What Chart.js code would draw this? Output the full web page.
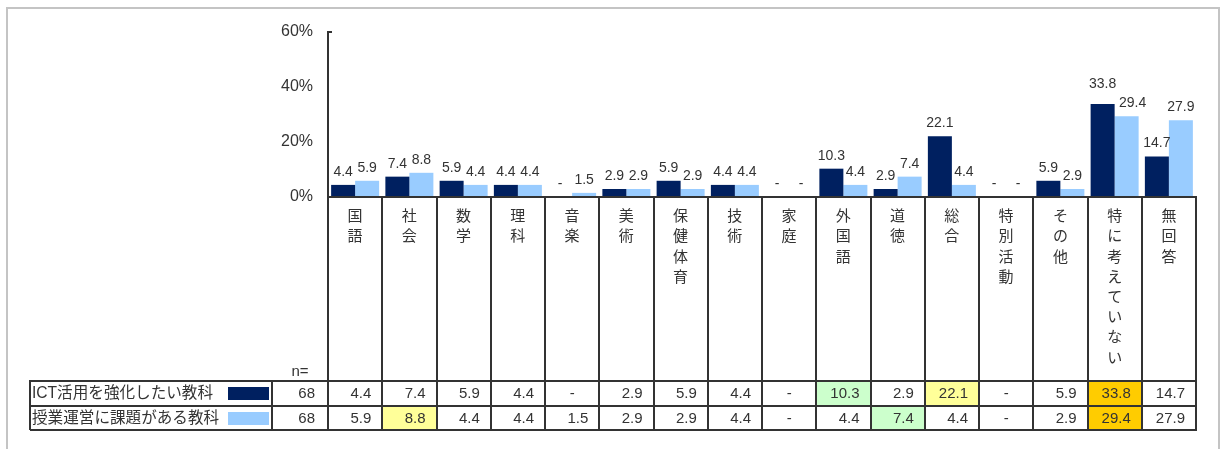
<!DOCTYPE html>
<html>
<head>
<meta charset="utf-8">
<script src="https://cdn.jsdelivr.net/npm/chart.js@4/dist/chart.umd.min.js"></script>
<style>
  html, body { margin: 0; padding: 0; background: #ffffff; }
  #wrap { position: relative; width: 1223px; height: 449px; }
  canvas { display: block; }
</style>
</head>
<body>
<div id="wrap"><canvas id="c" width="1223" height="449"></canvas></div>
<script>
// ---- data ----
const categories = ["国語","社会","数学","理科","音楽","美術","保健体育","技術","家庭","外国語","道徳","総合","特別活動","その他","特に考えていない","無回答"];
const seriesNames = ["ICT活用を強化したい教科","授業運営に課題がある教科"];
const ictValues   = [4.4, 7.4, 5.9, 4.4, null, 2.9, 5.9, 4.4, null, 10.3, 2.9, 22.1, null, 5.9, 33.8, 14.7];
const issueValues = [5.9, 8.8, 4.4, 4.4, 1.5, 2.9, 2.9, 4.4, null, 4.4, 7.4, 4.4, null, 2.9, 29.4, 27.9];
const nValues = [68, 68];
const yTicks = [0, 20, 40, 60];
// ---- cell highlight styles (by row) ----
const Y = "#FFFF99", G = "#CCFFCC", O = "#FFCC00";
const ictHighlight   = [null,null,null,null,null,null,null,null,null,G,null,Y,null,null,O,null];
const issueHighlight = [null,Y,null,null,null,null,null,null,null,null,G,null,null,null,O,null];

const DARK = "#002060", LIGHT = "#99CCFF", LINE = "#333333", TXT = "#333333";
const FONT = '"Liberation Sans", Arial, "Noto Sans CJK JP", sans-serif';
const fmt = v => (v === null || v === undefined) ? "-" : v.toFixed(1);

const tablePlugin = {
  id: "tablePlugin",
  beforeDraw(chart) {
    const ctx = chart.ctx;
    ctx.save();
    ctx.fillStyle = "#c4c4c4";
    ctx.fillRect(6, 7, 2, 442);
    ctx.fillRect(6, 7, 1214, 2);
    ctx.fillRect(1218, 7, 2, 442);
    ctx.restore();
  },
  afterDraw(chart) {
    const ctx = chart.ctx;
    const xs = chart.scales.x, ys = chart.scales.y;
    const L = chart.chartArea.left, R = chart.chartArea.right;
    const B = Math.round(ys.getPixelForValue(0));
    const colW = xs.getPixelForValue(1) - xs.getPixelForValue(0);
    const row1Top = 381, row2Top = 406, tblBottom = 430;
    const tblLeft = 30, nLeft = 272;
    ctx.save();

    // data labels above bars (with simple overlap avoidance)
    ctx.font = "14px " + FONT;
    ctx.fillStyle = TXT;
    ctx.textAlign = "center";
    ctx.textBaseline = "middle";
    const m0 = chart.getDatasetMeta(0), m1 = chart.getDatasetMeta(1);
    categories.forEach((c, i) => {
      const labs = [[ictValues[i], m0.data[i]], [issueValues[i], m1.data[i]]].map(([v, bar]) => {
        const t = fmt(v);
        return { t, x: bar.x, y: (v === null ? ys.getPixelForValue(0) : bar.y) - 13, w: ctx.measureText(t).width };
      });
      const [a, b] = labs;
      const hOver = (a.x + a.w / 2) - (b.x - b.w / 2);
      if (hOver > 0 && Math.abs(a.y - b.y) < 14) {
        if (a.y <= b.y) { a.y = b.y - 19; b.x += 6; }
        else { b.y = a.y - 19; a.x -= 6; }
      }
      labs.forEach(l => ctx.fillText(l.t, l.x, l.y));
    });

    // top tick cap
    ctx.fillStyle = LINE;
    const yTop = Math.round(ys.getPixelForValue(yTicks[yTicks.length - 1]));
    ctx.fillRect(L - 1, yTop - 1, 5, 2);

    // highlights
    [[ictHighlight, row1Top, row2Top], [issueHighlight, row2Top, tblBottom]].forEach(([hl, t, b]) => {
      hl.forEach((c, i) => {
        if (!c) return;
        const cx = xs.getPixelForValue(i);
        ctx.fillStyle = c;
        ctx.fillRect(cx - colW / 2, t, colW, b - t);
      });
    });

    // lines
    ctx.fillStyle = LINE;
    ctx.fillRect(L - 1, B - 1, R - L + 2, 2);               // x axis line
    ctx.fillRect(tblLeft, row1Top - 1, R - tblLeft + 1, 2);
    ctx.fillRect(tblLeft, row2Top - 1, R - tblLeft + 1, 2);
    ctx.fillRect(tblLeft, tblBottom - 1, R - tblLeft + 1, 2);
    ctx.fillRect(tblLeft - 1, row1Top - 1, 2, tblBottom - row1Top + 1);
    ctx.fillRect(nLeft - 1, row1Top - 1, 2, tblBottom - row1Top + 1);
    for (let k = 0; k <= categories.length; k++) {
      const x = Math.round(L + k * colW);
      ctx.fillRect(x - 1, B - 1, 2, tblBottom - B + 1);
    }

    // category labels (vertical)
    ctx.fillStyle = TXT;
    ctx.font = "15px " + FONT;
    ctx.textAlign = "center";
    ctx.textBaseline = "middle";
    categories.forEach((c, i) => {
      const cx = xs.getPixelForValue(i);
      Array.from(c).forEach((ch, j) => {
        ctx.fillText(ch, cx, 217 + j * 20.2);
      });
    });

    // n=
    ctx.font = "15px " + FONT;
    ctx.fillText("n=", 300, 372);

    // row labels and swatches
    const rows = [[ictValues, row1Top, row2Top, DARK], [issueValues, row2Top, tblBottom, LIGHT]];
    rows.forEach(([vals, t, b, col], r) => {
      const cy = (t + b) / 2 + 0.5;
      ctx.fillStyle = TXT;
      ctx.textAlign = "left";
      ctx.font = "15.6px " + FONT;
      ctx.fillText(seriesNames[r], 32, cy);
      ctx.fillStyle = col;
      ctx.fillRect(228, t + 6, 41, 13);
      ctx.fillStyle = TXT;
      ctx.font = "15px " + FONT;
      ctx.textAlign = "right";
      ctx.fillText(String(nValues[r]), 315, cy);
      vals.forEach((v, i) => {
        const cx = xs.getPixelForValue(i);
        if (v === null) {
          ctx.textAlign = "center";
          ctx.fillText("-", cx, cy);
        } else {
          ctx.textAlign = "right";
          ctx.fillText(fmt(v), cx + colW / 2 - 11, cy);
        }
      });
    });
    ctx.restore();
  }
};

new Chart(document.getElementById("c"), {
  type: "bar",
  data: {
    labels: categories,
    datasets: [
      { label: seriesNames[0], data: ictValues, backgroundColor: DARK, barPercentage: 1, categoryPercentage: 0.885 },
      { label: seriesNames[1], data: issueValues, backgroundColor: LIGHT, barPercentage: 1, categoryPercentage: 0.885 }
    ]
  },
  options: {
    responsive: false,
    animation: false,
    devicePixelRatio: 1,
    layout: { padding: { left: 0, right: 27, top: 32, bottom: 252 } },
    plugins: { legend: { display: false }, tooltip: { enabled: false } },
    scales: {
      x: { display: false },
      y: {
        min: 0, max: 60,
        afterFit: s => { s.width = 328; },
        afterBuildTicks: s => { s.ticks = yTicks.map(v => ({ value: v })); },
        ticks: { callback: v => v + "%", padding: 15, color: TXT, font: { size: 16, family: FONT } },
        grid: { display: false, drawTicks: false },
        border: { display: true, color: LINE, width: 2 }
      }
    }
  },
  plugins: [tablePlugin]
});
</script>
</body>
</html>
